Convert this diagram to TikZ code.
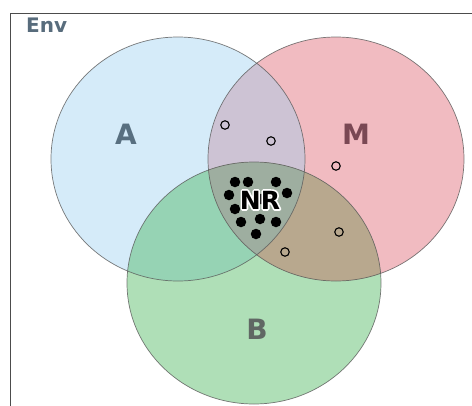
\documentclass[tikz,border=0pt]{standalone}
\usepackage{fontspec}
\setmainfont{DejaVu Sans}
\usetikzlibrary{shapes.geometric}

\definecolor{setA}{RGB}{152,207,242}
\definecolor{setM}{RGB}{220,85,100}
\definecolor{setB}{RGB}{57,177,77}
\definecolor{pairMB}{RGB}{184,168,142}
\definecolor{tripleABM}{RGB}{158,174,160}
\definecolor{labA}{RGB}{88,111,128}
\definecolor{labM}{RGB}{122,72,84}
\definecolor{labB}{RGB}{96,104,100}
\definecolor{labEnv}{RGB}{88,108,124}
\definecolor{rim}{RGB}{90,90,90}

\tikzset{
  setshape/.style={ellipse, inner sep=0pt, fill opacity=0.4},
  rimline/.style={draw=rim, draw opacity=0.8, line width=0.7pt},
  setlabel/.style={font=\bfseries\fontsize{28}{28}\selectfont, inner sep=0pt},
  core/.style={circle, fill=black, inner sep=0pt, minimum size=10.5pt},
  outer/.style={circle, draw=black, line width=1.1pt, inner sep=0pt, minimum size=8.5pt},
  frame/.style={draw=black!70, line width=1pt},
  nrfont/.style={font=\bfseries\fontsize{25}{25}\selectfont, inner sep=0pt}
}

% outlined text: stroke the glyph outlines in white
\newcommand{\haloText}[1]{%
  \special{pdf:literal direct 1 Tr 3.4 w 1 j 1 1 1 RG}#1\special{pdf:literal direct 0 Tr 0 G}}

\begin{document}
\begin{tikzpicture}[x=1pt,y=-1pt]
  \useasboundingbox (0,0) rectangle (472,405);
  \clip (0,0) rectangle (472,405);
  \fill[white] (0,0) rectangle (472,405);

  % environment frame, open past the page edge
  \draw[frame] (10,13) rectangle (490,430);
  \node[font=\bfseries\fontsize{20}{20}\selectfont, text=labEnv, anchor=base west, inner sep=0pt] (env) at (26,32) {Env};

  % the three sets (fills)
  \node[setshape, fill=setM, minimum width=256pt, minimum height=244pt] (M) at (336,159) {};
  \node[setshape, fill=setA, minimum width=254pt, minimum height=244pt] (A) at (178,159) {};
  \node[setshape, fill=setB, minimum width=254pt, minimum height=242pt] (B) at (254,283) {};

  % shades of the M-B lens and of the common region
  \begin{scope}
    \clip (M.center) ellipse [x radius=128, y radius=122];
    \clip (B.center) ellipse [x radius=127, y radius=121];
    \fill[pairMB] (120,150) rectangle (470,410);
    \clip (A.center) ellipse [x radius=127, y radius=122];
    \fill[tripleABM] (120,150) rectangle (470,410);
  \end{scope}

  % outlines of the sets
  \draw[rimline] (M.center) ellipse [x radius=128, y radius=122];
  \draw[rimline] (A.center) ellipse [x radius=127, y radius=122];
  \draw[rimline] (B.center) ellipse [x radius=127, y radius=121];

  \node[setlabel, text=labA] (lA) at (126,134) {A};
  \node[setlabel, text=labM] (lM) at (356,134) {M};
  \node[setlabel, text=labB] (lB) at (257,329) {B};

  % elements lying in two sets
  \node[outer] (o1) at (225,125) {};
  \node[outer] (o2) at (271,141) {};
  \node[outer] (o3) at (336,166) {};
  \node[outer] (o4) at (339,232) {};
  \node[outer] (o5) at (285,252) {};

  % elements in all three sets
  \node[core] (c1) at (235,182) {};
  \node[core] (c2) at (248,182) {};
  \node[core] (c3) at (276,182) {};
  \node[core] (c4) at (229,195) {};
  \node[core] (c5) at (287,193) {};
  \node[core] (c6) at (235,209) {};
  \node[core] (c7) at (261,199) {};
  \node[core] (c8) at (241,222) {};
  \node[core] (c9) at (260,219) {};
  \node[core] (c10) at (276,222) {};
  \node[core] (c11) at (256,234) {};

  % centre label: white outline below, black letters on top
  \node[nrfont] (nrhalo) at (260,200) {\haloText{NR}};
  \node[nrfont, text=black] (nr) at (260,200) {NR};
\end{tikzpicture}
\end{document}
